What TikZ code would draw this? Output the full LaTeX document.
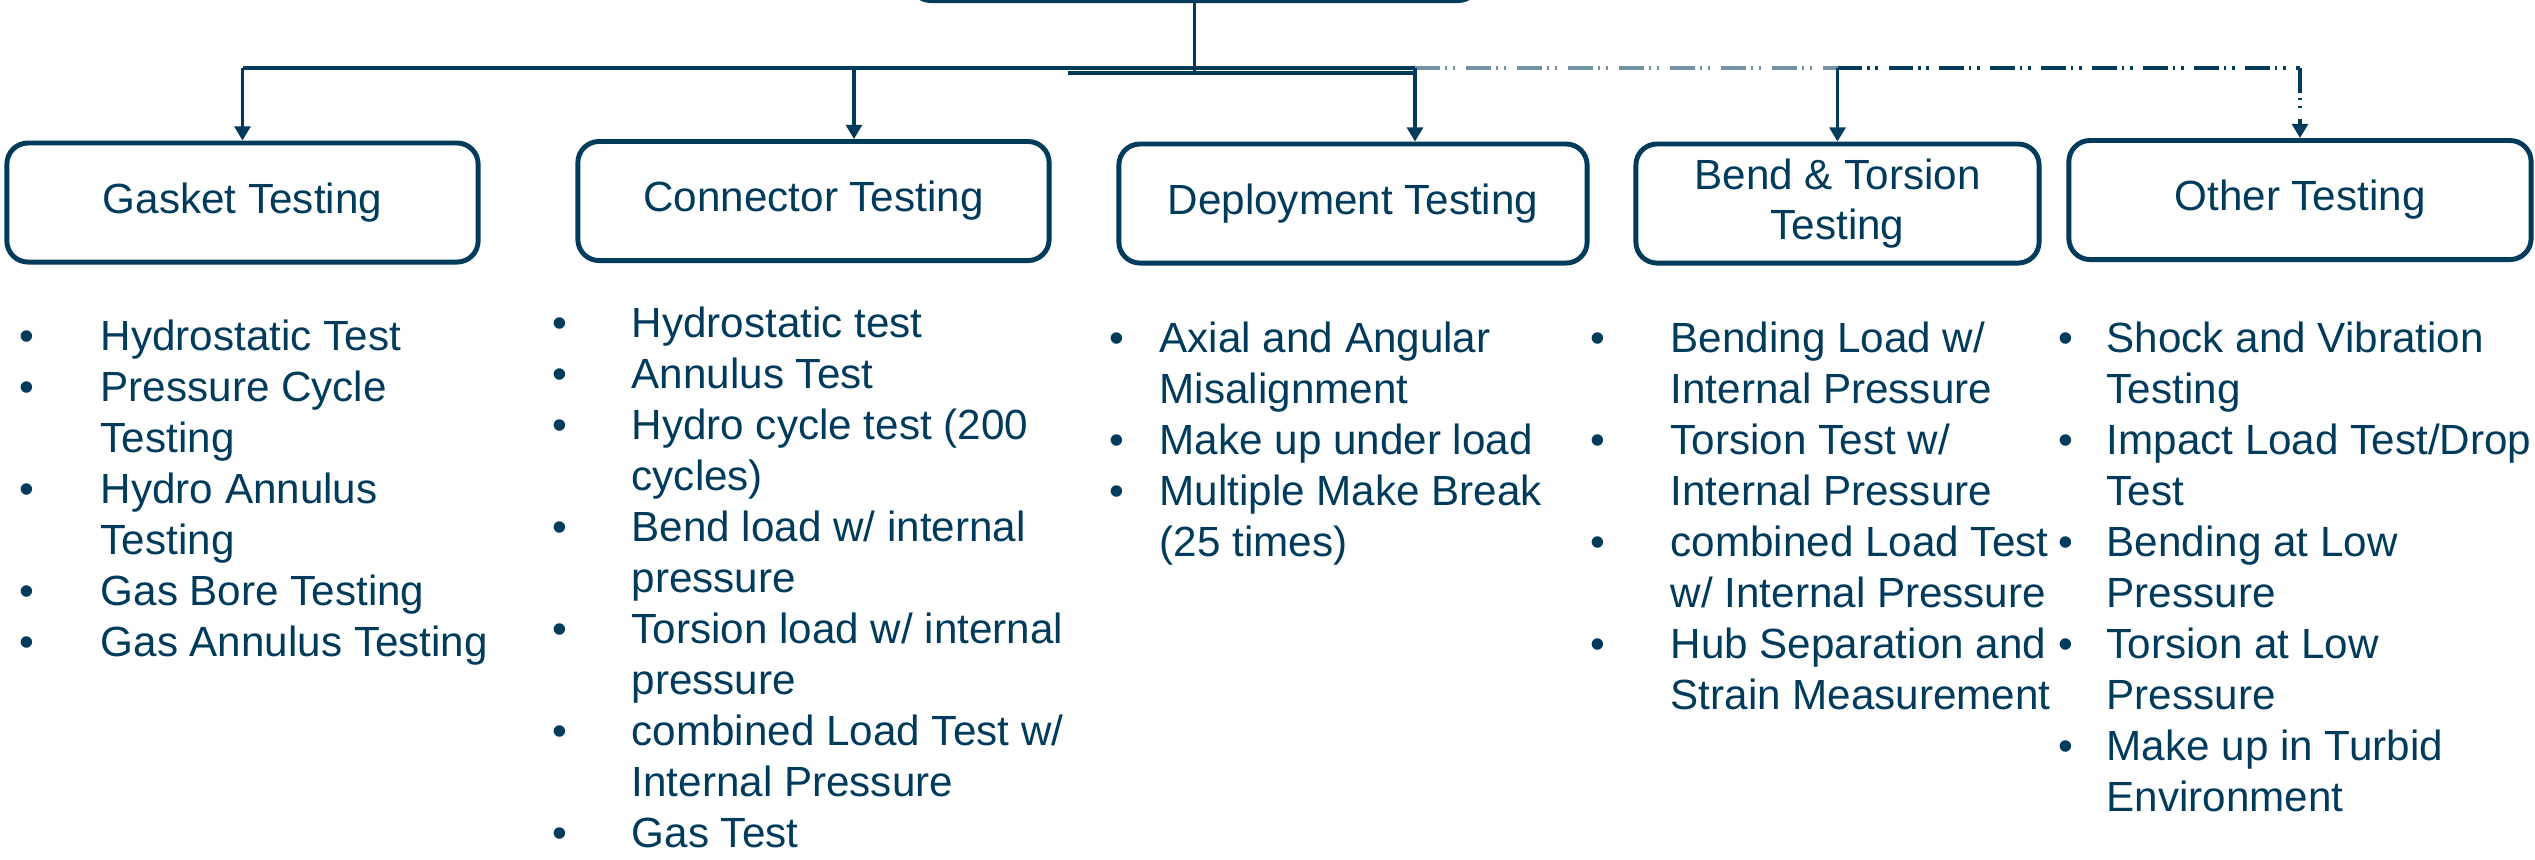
\documentclass[tikz,border=0pt]{standalone}
\usepackage{fontspec}
\setmainfont{Liberation Sans}
\usetikzlibrary{arrows.meta}
\definecolor{navy}{RGB}{0,59,92}

\begin{document}
\begin{tikzpicture}[x=0.01cm, y=-0.01cm, every node/.style={text=navy},
  box/.style={draw=navy, line width=1.4pt, rounded corners=6pt, align=center,
    font=\fontsize{12}{14.2}\selectfont, minimum height=1.19cm, inner sep=0pt},
  list/.style={anchor=north west, inner sep=0pt, font=\fontsize{12}{14.5}\selectfont},
  link/.style={draw=navy, line width=0.9pt},
  busdash/.style={dash pattern=on 7.1pt off 1.4pt on 0.6pt off 1.7pt on 0.6pt off 3.1pt},
  >={Triangle[length=4pt,width=4.5pt]}]
\useasboundingbox (0,0) rectangle (2535,859);

\node[box, minimum width=5.69cm] (top) at (1194.5,-59) {};
\node[box, minimum width=4.71cm] (gasket) at (242.5,202.5) {Gasket Testing};
\node[box, minimum width=4.71cm] (connector) at (813.5,201) {Connector Testing};
\node[box, minimum width=4.68cm] (deploy) at (1353,203.5) {Deployment Testing};
\node[box, minimum width=4.03cm] (bend) at (1837.5,203.5) {Bend \& Torsion\\Testing};
\node[box, minimum width=4.62cm] (other) at (2300,200) {Other Testing};

\coordinate (bus) at (0,68);
\coordinate (c2) at (854,68);
\coordinate (c3) at (1415,68);
\coordinate (c4) at (bend.north |- bus);
\coordinate (c5) at (other.north |- bus);
\coordinate (d1) at (1068,73);
\coordinate (d2) at (1415,73);

\draw[link] (gasket.north |- bus) -- (c3);
\draw[link] (d1) -- (d2);
\draw[link] (top.south) -- (top.south |- d1);
\draw[link, busdash, draw=navy!55] (c3) -- (c4);
\draw[link, busdash] (c4) -- (c5);
\draw[link, ->] (gasket.north |- bus) -- (gasket.north);
\draw[link, ->] (c2) -- (c2 |- connector.north);
\draw[link, ->] (c3) -- (c3 |- deploy.north);
\draw[link, ->] (c4) -- (bend.north);
\draw[link, ->, busdash] (c5) -- (other.north);

\node[list] (gasketlist) at (19,314) {\begin{tabular}{@{}p{0.81cm}@{}l@{}}
\textbullet & Hydrostatic Test\\
\textbullet & Pressure Cycle\\
 & Testing\\
\textbullet & Hydro Annulus\\
 & Testing\\
\textbullet & Gas Bore Testing\\
\textbullet & Gas Annulus Testing
\end{tabular}};

\node[list] (connectorlist) at (552,301) {\begin{tabular}{@{}p{0.79cm}@{}l@{}}
\textbullet & Hydrostatic test\\
\textbullet & Annulus Test\\
\textbullet & Hydro cycle test (200\\
 & cycles)\\
\textbullet & Bend load w/ internal\\
 & pressure\\
\textbullet & Torsion load w/ internal\\
 & pressure\\
\textbullet & combined Load Test w/\\
 & Internal Pressure\\
\textbullet & Gas Test
\end{tabular}};

\node[list] (deploylist) at (1109,316) {\begin{tabular}{@{}p{0.50cm}@{}l@{}}
\textbullet & Axial and Angular\\
 & Misalignment\\
\textbullet & Make up under load\\
\textbullet & Multiple Make Break\\
 & (25 times)
\end{tabular}};

\node[list] (bendlist) at (1590,316) {\begin{tabular}{@{}p{0.80cm}@{}l@{}}
\textbullet & Bending Load w/\\
 & Internal Pressure\\
\textbullet & Torsion Test w/\\
 & Internal Pressure\\
\textbullet & combined Load Test\\
 & w/ Internal Pressure\\
\textbullet & Hub Separation and\\
 & Strain Measurement
\end{tabular}};

\node[list] (otherlist) at (2058,316) {\begin{tabular}{@{}p{0.48cm}@{}l@{}}
\textbullet & Shock and Vibration\\
 & Testing\\
\textbullet & Impact Load Test/Drop\\
 & Test\\
\textbullet & Bending at Low\\
 & Pressure\\
\textbullet & Torsion at Low\\
 & Pressure\\
\textbullet & Make up in Turbid\\
 & Environment
\end{tabular}};
\end{tikzpicture}
\end{document}
